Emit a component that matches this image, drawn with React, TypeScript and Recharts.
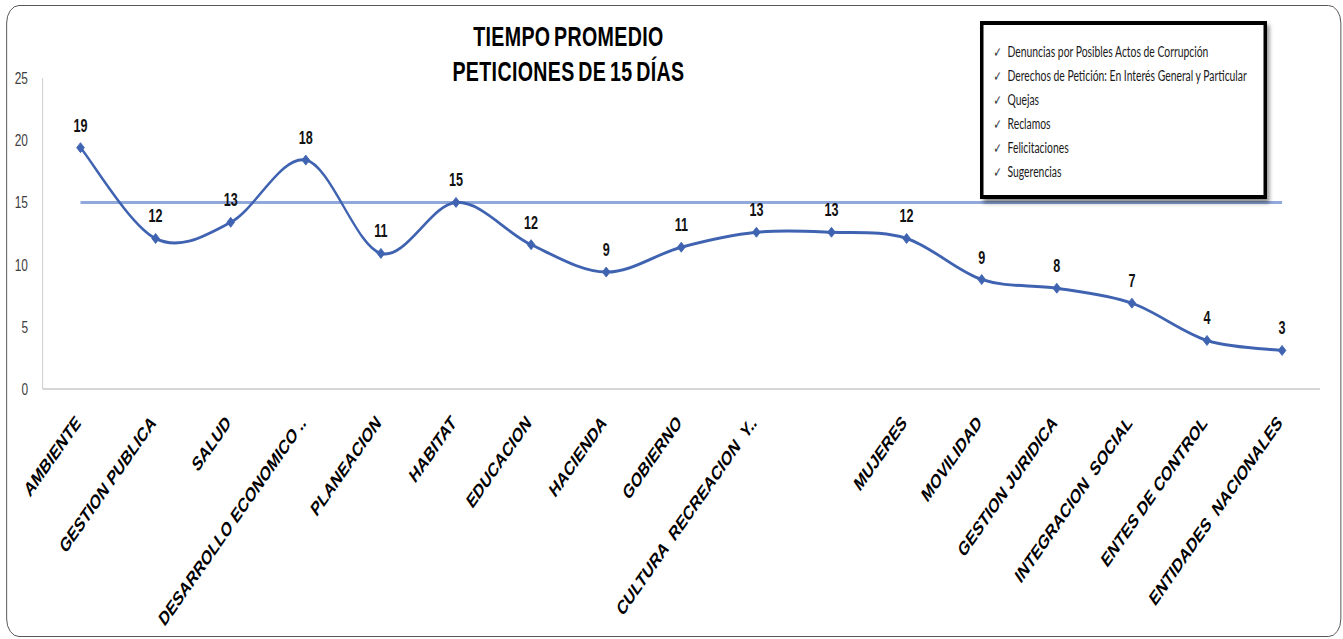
import React from "react";
import { LineChart, Line, XAxis, YAxis, LabelList } from "recharts";

// ---- data ----
const categories: string[] = [
  "AMBIENTE",
  "GESTION PUBLICA",
  "SALUD",
  "DESARROLLO ECONOMICO ..",
  "PLANEACION",
  "HABITAT",
  "EDUCACION",
  "HACIENDA",
  "GOBIERNO",
  "CULTURA  RECREACION  Y..",
  "",
  "MUJERES",
  "MOVILIDAD",
  "GESTION JURIDICA",
  "INTEGRACION  SOCIAL",
  "ENTES DE CONTROL",
  "ENTIDADES  NACIONALES",
];
const avgDays: number[] = [19.4, 12.1, 13.4, 18.4, 10.9, 15.0, 11.6, 9.4, 11.4, 12.6, 12.6, 12.1, 8.8, 8.1, 6.9, 3.9, 3.1];
const TARGET_DAYS = 15;
const yTicks: number[] = [0, 5, 10, 15, 20, 25];
const titleLines: string[] = ["TIEMPO PROMEDIO", "PETICIONES DE 15 DÍAS"];
const noteItems: string[] = [
  "Denuncias por Posibles Actos de Corrupción",
  "Derechos de Petición: En Interés General y Particular",
  "Quejas",
  "Reclamos",
  "Felicitaciones",
  "Sugerencias",
];

const data = categories.map((name, i) => ({ name, dias: avgDays[i], meta: TARGET_DAYS }));

// Excel-like smoothed line (Catmull-Rom as cubic Bezier)
const excelSmooth: any = (context: any) => {
  let pts: [number, number][] = [];
  return {
    areaStart() {},
    areaEnd() {},
    lineStart() {
      pts = [];
    },
    point(x: number, y: number) {
      pts.push([+x, +y]);
    },
    lineEnd() {
      const n = pts.length;
      if (!n) return;
      context.moveTo(pts[0][0], pts[0][1]);
      for (let i = 0; i < n - 1; i++) {
        const p0 = pts[i - 1] || pts[i];
        const p1 = pts[i];
        const p2 = pts[i + 1];
        const p3 = pts[i + 2] || p2;
        context.bezierCurveTo(
          p1[0] + (p2[0] - p0[0]) / 6,
          p1[1] + (p2[1] - p0[1]) / 6,
          p2[0] - (p3[0] - p1[0]) / 6,
          p2[1] - (p3[1] - p1[1]) / 6,
          p2[0],
          p2[1]
        );
      }
    },
  };
};

const SQUEEZE = 0.7;
const W = 1343 / SQUEEZE;
const H = 639;
const LINE_COLOR = "#3F63B1";
const TARGET_COLOR = "#8FA9DB";
const FONT = "'Liberation Sans', Arial, sans-serif";

const XTick = (props: any) => {
  const { x, y, payload } = props;
  return (
    <g transform={`translate(${x + 1.5},${y + 27})`}>
      <text
        transform="rotate(-45)"
        textAnchor="end"
        fontFamily={FONT}
        fontWeight="bold"
        fontSize={20}
        fill="#000"
        style={{ whiteSpace: "pre" }}
      >
        {payload.value}
      </text>
    </g>
  );
};

const Diamond = (props: any) => {
  const { cx, cy, index } = props;
  if (cx == null || cy == null) return <g key={`d-${index}`} />;
  const hw = 5.5;
  const hh = 5;
  return (
    <polygon
      key={`d-${index}`}
      points={`${cx},${cy - hh} ${cx + hw},${cy} ${cx},${cy + hh} ${cx - hw},${cy}`}
      fill={LINE_COLOR}
      stroke={LINE_COLOR}
      strokeWidth={1}
    />
  );
};

const ValueLabel = (props: any) => {
  const vb = props.viewBox || {};
  const x = props.x ?? vb.x;
  const y = props.y ?? vb.y;
  if (x == null || y == null) return null;
  return (
    <text x={x} y={y - 16} textAnchor="middle" fontFamily={FONT} fontWeight="bold" fontSize={18} fill="#111">
      {Math.round(Number(props.value))}
    </text>
  );
};

export default function App() {
  return (
    <div style={{ position: "absolute", left: 0, top: 0, width: 1343, height: 639, overflow: "hidden", background: "#fff" }}>
      <div
        style={{
          position: "absolute",
          left: 0,
          top: 0,
          width: W,
          height: H,
          transform: `scaleX(${SQUEEZE})`,
          transformOrigin: "0 0",
        }}
      >
        <div
          style={{
            position: "absolute",
            left: 8.5,
            top: 5,
            width: 1907,
            height: 632,
            boxSizing: "border-box",
            border: "1.6px solid #3a3a3a",
            borderRadius: 18,
          }}
        />
        <div style={{ position: "absolute", left: 0, top: 0 }}>
          <LineChart width={W} height={H} data={data} margin={{ top: 78, right: 33, left: 0, bottom: 0 }}>
            <XAxis
              dataKey="name"
              height={250}
              interval={0}
              padding={{ left: 54, right: 54 }}
              tickLine={false}
              axisLine={{ stroke: "#c8c8c8", strokeWidth: 1.3 }}
              tick={<XTick />}
            />
            <YAxis
              width={61}
              domain={[0, 25]}
              ticks={yTicks}
              interval={0}
              tickLine={false}
              tickMargin={15}
              axisLine={{ stroke: "#c8c8c8", strokeWidth: 1.3 }}
              tick={{ fontFamily: FONT, fontSize: 17, fill: "#404040" }}
            />
            <Line
              dataKey="meta"
              type="linear"
              stroke={TARGET_COLOR}
              strokeWidth={3}
              dot={false}
              activeDot={false}
              isAnimationActive={false}
            />
            <Line
              dataKey="dias"
              type={excelSmooth}
              stroke={LINE_COLOR}
              strokeWidth={3}
              dot={(p: any) => <Diamond key={`dm-${p.index}`} {...p} />}
              activeDot={false}
              isAnimationActive={false}
            >
              <LabelList dataKey="dias" content={<ValueLabel />} />
            </Line>
          </LineChart>
        </div>
        {titleLines.map((t, i) => (
          <div
            key={t}
            style={{
              position: "absolute",
              left: 512,
              width: 600,
              top: 19 + i * 35,
              textAlign: "center",
              fontFamily: FONT,
              fontWeight: "bold",
              fontSize: 28,
              lineHeight: "36px",
              letterSpacing: 0.5,
              wordSpacing: -3,
              color: "#000",
              whiteSpace: "nowrap",
            }}
          >
            {t}
          </div>
        ))}
        <div
          style={{
            position: "absolute",
            left: 1400,
            top: 21,
            width: 410,
            height: 178,
            boxSizing: "border-box",
            background: "#fff",
            borderStyle: "solid",
            borderColor: "#000",
            borderWidth: "4px 5.7px",
            boxShadow: "4px 4px 5px rgba(0,0,0,0.45)",
            paddingTop: 14.5,
            paddingLeft: 14.3,
            fontFamily: "Lato, 'Liberation Sans', sans-serif",
            fontSize: 14.8,
            lineHeight: "23px",
            color: "#1a1a1a",
          }}
        >
          {noteItems.map((t) => (
            <div key={t} style={{ whiteSpace: "nowrap" }}>
              <span style={{ display: "inline-block", width: 20, color: "#333", fontFamily: "'DejaVu Sans', sans-serif", fontSize: 14 }}>
                ✓
              </span>
              {t}
            </div>
          ))}
        </div>
      </div>
    </div>
  );
}
